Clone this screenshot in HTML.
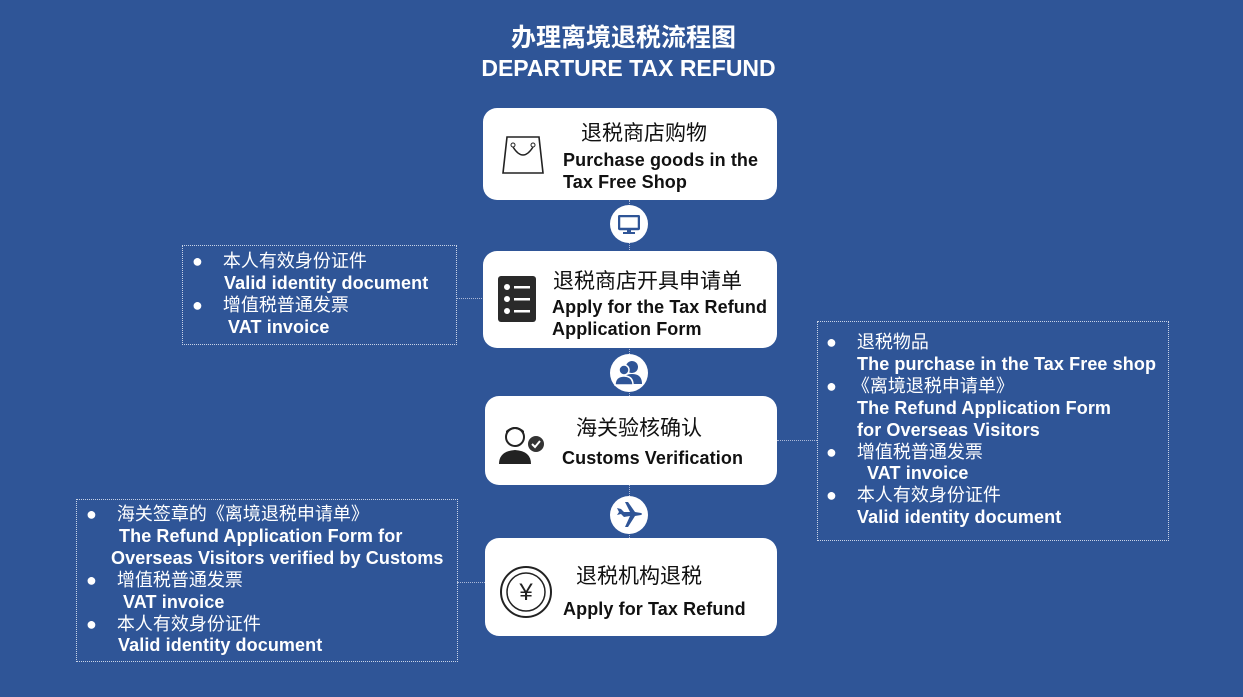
<!DOCTYPE html>
<html><head><meta charset="utf-8"><style>
body{margin:0;width:1243px;height:697px;background:#2f5597;position:relative;overflow:hidden;font-family:"Liberation Sans","Noto Sans CJK SC",sans-serif;}
.a{position:absolute}
.t{color:#fff;font-weight:bold;text-align:center;width:1243px;left:0}
.box{position:absolute;background:#fff;border-radius:14px}
.cn{font-size:21px;color:#111;position:absolute;white-space:nowrap}
.en{font-size:18px;letter-spacing:0.1px;font-weight:bold;color:#111;position:absolute;white-space:nowrap;line-height:22px}
.dot{position:absolute;border:1.5px dotted #c8d3e8}
.list{position:absolute;color:#fff;font-size:18px;line-height:21.9px;white-space:nowrap}
.list b{font-weight:bold;letter-spacing:0.1px}
.line{position:absolute;border-top:1.5px dotted #aab8d8}
.vl{position:absolute;border-left:1.5px dotted #aab8d8}
.c{position:absolute;width:38px;height:38px;border-radius:50%;background:#fff}
</style></head><body>
<div class="a t" style="top:18px;font-size:25px;font-family:'Noto Sans CJK SC',sans-serif;padding-left:4px;box-sizing:border-box">办理离境退税流程图</div>
<div class="a t" style="top:55px;font-size:23px;padding-left:14px;box-sizing:border-box">DEPARTURE TAX REFUND</div>

<div class="vl" style="left:629px;top:200px;height:340px"></div>
<div class="line" style="left:456px;top:298px;width:28px"></div>
<div class="line" style="left:777px;top:440px;width:40px"></div>
<div class="line" style="left:457px;top:582px;width:28px"></div>

<div class="box" style="left:483px;top:108px;width:294px;height:92px"></div>
<div class="box" style="left:483px;top:251px;width:294px;height:97px"></div>
<div class="box" style="left:485px;top:396px;width:292px;height:89px"></div>
<div class="box" style="left:485px;top:538px;width:292px;height:98px"></div>

<div class="cn" style="left:581px;top:117px">退税商店购物</div>
<div class="en" style="left:563px;top:149px">Purchase goods in the<br>Tax Free Shop</div>
<svg class="a" style="left:501px;top:132px" width="44" height="42" viewBox="0 0 44 42"><path d="M6 5h32l4 36H2z" fill="none" stroke="#222" stroke-width="1.6"/><circle cx="12" cy="13" r="2" fill="none" stroke="#222"/><circle cx="32" cy="13" r="2" fill="none" stroke="#222"/><path d="M12 15q10 16 20 0" fill="none" stroke="#222" stroke-width="1.5"/></svg>

<div class="cn" style="left:553px;top:265px">退税商店开具申请单</div>
<div class="en" style="left:552px;top:296px">Apply for the Tax Refund<br>Application Form</div>
<svg class="a" style="left:498px;top:276px" width="38" height="46"><rect width="38" height="46" rx="3" fill="#2a2a2a"/><g fill="#fff"><circle cx="9" cy="11" r="3"/><circle cx="9" cy="23" r="3"/><circle cx="9" cy="35" r="3"/><rect x="16" y="10" width="16" height="2.5"/><rect x="16" y="22" width="16" height="2.5"/><rect x="16" y="34" width="16" height="2.5"/></g></svg>

<div class="cn" style="left:576px;top:412px">海关验核确认</div>
<div class="en" style="left:562px;top:447px">Customs Verification</div>
<svg class="a" style="left:498px;top:425px" width="48" height="40"><circle cx="17" cy="12" r="9" fill="#fff" stroke="#222" stroke-width="2"/><path d="M8 9q9-10 18 0v-3q-9-8-18 0z" fill="#222"/><path d="M1 39q0-13 16-14q16 1 16 14z" fill="#222"/><circle cx="38" cy="19" r="8" fill="#333"/><path d="M34 19l3 3l5-6" stroke="#fff" stroke-width="2" fill="none"/></svg>

<div class="cn" style="left:576px;top:560px">退税机构退税</div>
<div class="en" style="left:563px;top:598px">Apply for Tax Refund</div>
<svg class="a" style="left:499px;top:565px" width="54" height="54"><circle cx="27" cy="27" r="25" fill="none" stroke="#222" stroke-width="2"/><circle cx="27" cy="27" r="19" fill="none" stroke="#222" stroke-width="1.5"/><text x="27" y="35" font-size="24" text-anchor="middle" fill="#222" font-family="Liberation Sans">¥</text></svg>

<div class="c" style="left:610px;top:205px"></div>
<svg class="a" style="left:618px;top:215px" width="22" height="20"><rect x="1" y="1" width="20" height="13" rx="1" fill="none" stroke="#2f5597" stroke-width="2.5"/><rect x="9" y="14" width="4" height="3" fill="#2f5597"/><rect x="5" y="17" width="12" height="2" fill="#2f5597"/></svg>
<div class="c" style="left:610px;top:354px"></div>
<svg class="a" style="left:614px;top:360px" width="30" height="26"><circle cx="18" cy="7" r="6" fill="#2f5597"/><path d="M8 24q0-10 10-10q10 0 10 10z" fill="#2f5597"/><circle cx="10" cy="10" r="5" fill="#2f5597" stroke="#fff" stroke-width="1.5"/><path d="M1 25q0-9 9-9q9 0 9 9z" fill="#2f5597" stroke="#fff" stroke-width="1.5"/></svg>
<div class="c" style="left:610px;top:496px"></div>
<svg class="a" style="left:615px;top:502px" width="28" height="26" viewBox="0 0 28 26"><path d="M2 13l4-1l3 3l6-1l-5 11h3l7-11l6-1q2-1 0-2l-6-1l-7-10h-3l5 10l-6 0l-3-3l-4-1l2 4z" fill="#2f5597"/></svg>

<div class="dot" style="left:182px;top:245px;width:273px;height:98px"></div>
<div class="list" style="left:192px;top:251px">●&nbsp;&nbsp;&nbsp;&nbsp;本人有效身份证件<br><b style="margin-left:32px">Valid identity document</b><br>●&nbsp;&nbsp;&nbsp;&nbsp;增值税普通发票<br><b style="margin-left:36px">VAT invoice</b></div>

<div class="dot" style="left:817px;top:321px;width:350px;height:218px"></div>
<div class="list" style="left:826px;top:332px">●&nbsp;&nbsp;&nbsp;&nbsp;退税物品<br><b style="margin-left:31px">The purchase in the Tax Free shop</b><br>●&nbsp;&nbsp;&nbsp;《离境退税申请单》<br><b style="margin-left:31px">The Refund Application Form</b><br><b style="margin-left:31px">for Overseas Visitors</b><br>●&nbsp;&nbsp;&nbsp;&nbsp;增值税普通发票<br><b style="margin-left:41px">VAT invoice</b><br>●&nbsp;&nbsp;&nbsp;&nbsp;本人有效身份证件<br><b style="margin-left:31px">Valid identity document</b></div>

<div class="dot" style="left:76px;top:499px;width:380px;height:161px"></div>
<div class="list" style="left:86px;top:504px">●&nbsp;&nbsp;&nbsp;&nbsp;海关签章的《离境退税申请单》<br><b style="margin-left:33px">The Refund Application Form for</b><br><b style="margin-left:25px">Overseas Visitors verified by Customs</b><br>●&nbsp;&nbsp;&nbsp;&nbsp;增值税普通发票<br><b style="margin-left:37px">VAT invoice</b><br>●&nbsp;&nbsp;&nbsp;&nbsp;本人有效身份证件<br><b style="margin-left:32px">Valid identity document</b></div>
</body></html>
